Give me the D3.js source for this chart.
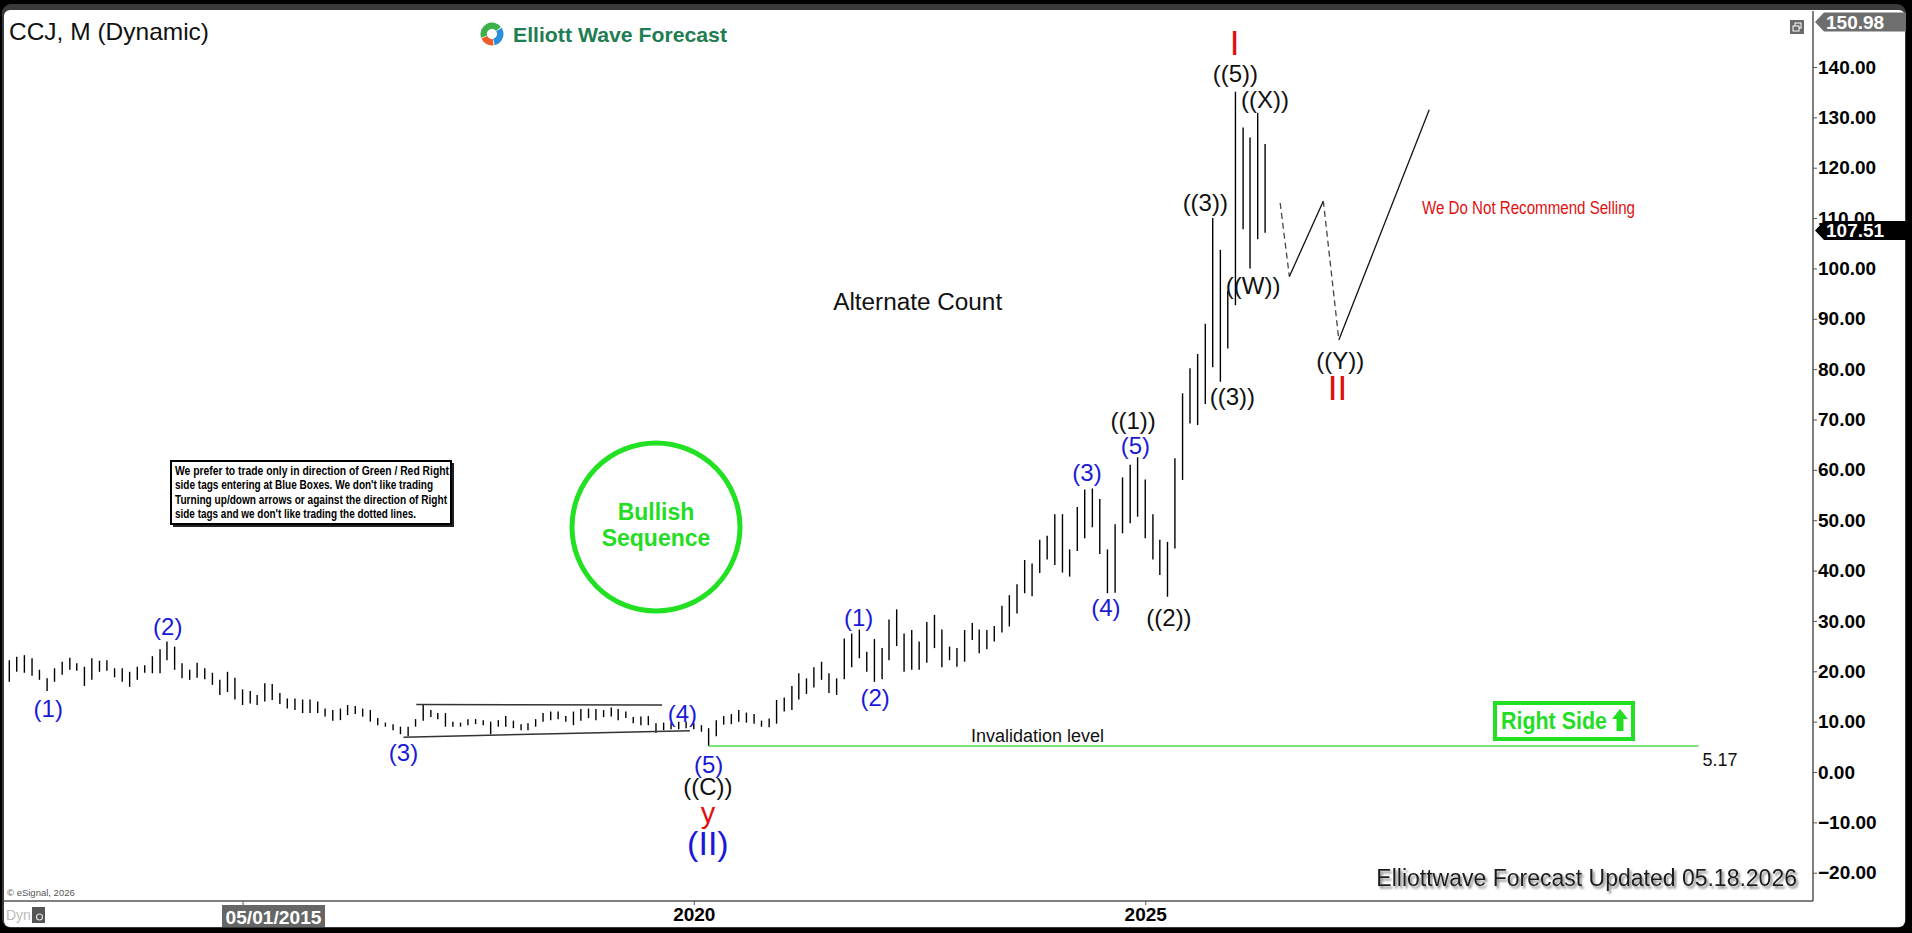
<!DOCTYPE html>
<html><head><meta charset="utf-8">
<script src="https://cdn.jsdelivr.net/npm/d3@7"></script>
<style>html,body{margin:0;padding:0;background:#000;overflow:hidden}svg{display:block}</style>
</head><body><svg id="c" width="1912" height="933"></svg>
<script>
// ---------------- DATA ----------------
const firstMonth = [2012, 5];          // June 2012 (year, monthIndex)
const lastMonth = [2026, 4];           // May 2026
const highs = [
 22.2,22.9,23.2,22.6,20.3,18.6,20.6,21.9,22.7,21.6,
 20.9,22.6,22.1,22.2,20.6,20.6,19.9,20.9,21.2,23.0,
 24.4,25.9,24.9,21.6,20.3,21.7,20.6,19.7,18.3,19.9,
 18.7,16.4,16.1,15.3,17.6,17.5,15.7,14.6,14.6,14.4,
 14.4,14.0,12.6,12.3,12.6,13.3,13.1,12.6,12.3,10.7,
 9.8,9.5,9.0,9.0,10.5,13.3,12.3,11.7,11.7,10.0,
 9.8,10.5,10.5,10.3,10.0,10.3,11.1,10.2,9.5,9.7,
 10.5,11.7,12.0,12.0,11.1,12.0,12.5,12.6,12.5,12.3,
 12.8,12.5,12.0,10.9,11.0,11.1,9.7,9.8,9.8,10.0,
 10.0,9.7,9.3,8.7,10.3,11.1,11.5,12.3,11.8,11.5,
 10.2,10.6,14.3,14.8,17.1,19.6,18.6,20.8,21.9,19.6,
 18.6,26.5,27.5,28.3,23.9,26.4,24.6,30.3,32.3,27.5,
 28.2,25.9,29.8,31.2,28.3,24.9,24.6,28.2,29.6,28.3,
 28.2,29.0,33.0,35.1,37.3,42.1,41.4,46.1,46.9,51.2,
 51.2,44.2,52.6,56.1,56.3,54.2,44.2,49.2,58.5,61.0,
 62.5,58.1,51.2,46.1,45.7,62.3,75.2,80.2,83.0,89.0,
 110.0,103.7,95.5,135.1,128.0,126.0,130.9,124.7
];
const lows = [
 17.9,19.9,19.7,19.1,18.3,16.1,17.9,19.3,20.3,20.1,
 17.1,18.3,19.9,20.1,18.8,17.9,16.9,18.3,19.7,19.6,
 19.6,22.2,20.3,18.6,18.3,18.7,18.4,17.3,15.3,15.9,
 14.4,13.3,13.6,13.3,14.0,14.3,13.5,12.6,12.3,11.7,
 11.7,11.7,11.0,10.2,10.3,11.3,11.5,11.0,10.0,9.3,
 9.0,8.3,7.5,7.1,9.0,10.2,10.9,10.5,9.0,9.0,
 9.0,9.3,9.5,9.3,7.5,9.0,9.0,8.7,8.3,8.3,
 9.0,10.0,10.3,10.5,10.0,9.3,10.2,10.7,10.3,10.9,
 11.0,10.3,10.7,9.7,9.3,9.3,7.8,8.3,8.5,8.5,
 8.7,8.5,8.0,5.17,7.1,9.4,9.5,10.0,9.8,9.6,
 9.0,8.9,9.6,12.0,12.3,14.4,15.5,16.8,18.3,15.7,
 15.3,18.4,20.8,22.6,19.9,17.9,18.4,22.2,25.0,19.9,
 20.3,20.3,21.7,24.6,20.8,22.2,20.9,21.9,26.2,23.6,
 24.4,25.9,27.7,28.9,31.5,35.5,34.9,39.5,42.2,41.1,
 39.6,38.8,43.9,46.4,48.6,43.3,35.5,35.6,47.4,49.4,
 50.7,46.4,42.2,39.1,34.8,44.4,58.0,69.2,68.9,73.1,
 80.4,77.5,84.1,92.7,107.8,100.0,105.8,107.1
];
const priceTicks = [-20,-10,0,10,20,30,40,50,60,70,80,90,100,110,120,130,140];
const yearTicks = [2015, 2020, 2025];
const lastPrice = 107.51;
const topPrice = 150.98;
const invalidation = 5.17;
const cursorDateLabel = "05/01/2015";
// projection path: [month index from first month, price]
const projection = [[169.0,113.0],[170.2,98.4],[174.7,113.4],[176.8,85.8],[188.8,131.5]];
const projectionDashed = [true,false,true,false];
// triangle (wave (4)) boundaries: [monthIndex, price]
const triangleUpper = [[54.1,13.4],[86.8,13.3]];
const triangleLower = [[52.4,6.9],[90.5,8.2]];
const invalidationSpan = [93.0, 224.6];
// wave labels: [text, monthIndex, price]
const blueLabels = [["(1)",5.15,12.7],["(2)",21.1,28.8],["(3)",52.4,3.8],["(4)",89.5,11.7],["(5)",93.0,1.4],
  ["(1)",112.9,30.6],["(2)",115.1,14.7],["(3)",143.3,59.4],["(4)",145.8,32.6],["(5)",149.7,64.9]];
const blackLabels = [["((C))",92.9,-2.9],["((1))",149.4,69.9],["((2))",154.2,30.6],["((3))",159.0,113.0],
  ["((3))",162.6,74.5],["((5))",163.0,138.8],["((X))",167.0,133.6],["((W))",165.4,96.7],["((Y))",177.0,81.8]];
const redMinorLabels = [["y",92.9,-8.2]];
const redMajorLabels = [["I",162.9,144.8],["II",176.6,76.3]];
const blueCycleLabels = [["(II)",92.9,-14.1]];
const noteLines = ["We prefer to trade only in direction of Green / Red Right",
  "side tags entering at Blue Boxes. We don't like trading",
  "Turning up/down arrows or against the direction of Right",
  "side tags and we don't like trading the dotted lines."];

// ---------------- SETUP ----------------
const W = 1912, H = 933;
const plotL = 4, plotR = 1813, plotT = 11, plotB = 901;
const FONT = "'Liberation Sans', Arial, Helvetica, sans-serif";
const NARROW = "'Liberation Sans Narrow', 'Arial Narrow', 'Liberation Sans', Arial, sans-serif";
const svg = d3.select("#c");

const monthDate = i => {
  const m = Math.floor(i), f = i - m;
  const d0 = new Date(firstMonth[0], firstMonth[1] + m, 1);
  const d1 = new Date(firstMonth[0], firstMonth[1] + m + 1, 1);
  return new Date(+d0 + f * (d1 - d0));
};
const x = d3.scaleTime()
  .domain([new Date(firstMonth[0], firstMonth[1], 1), new Date(lastMonth[0], lastMonth[1], 1)])
  .range([9.3, 1265.1]);
const y = d3.scaleLinear().domain([0, 140]).range([772, 67]);
const X = i => x(monthDate(i));

// frame
svg.append("rect").attr("x",0).attr("y",0).attr("width",W).attr("height",H).attr("fill","#000");
svg.append("rect").attr("x",2).attr("y",4).attr("width",1904).attr("height",924).attr("rx",9).attr("fill","#3a3a3a");
svg.append("rect").attr("x",4).attr("y",10).attr("width",1901).attr("height",917).attr("rx",6).attr("fill","#fff");

const defs = svg.append("defs");
defs.append("clipPath").attr("id","plotclip").append("rect")
  .attr("x",plotL).attr("y",plotT).attr("width",plotR-plotL).attr("height",plotB-plotT);
const f = defs.append("filter").attr("id","shadow").attr("x","-5%").attr("y","-30%").attr("width","115%").attr("height","170%");
f.append("feDropShadow").attr("dx",2).attr("dy",2.5).attr("stdDeviation",1.2).attr("flood-color","#777").attr("flood-opacity",0.9);

const plot = svg.append("g").attr("clip-path","url(#plotclip)");

// ---------------- PRICE BARS ----------------
const bars = highs.map((h,i)=>({h, l: lows[i], d: monthDate(i)}));
plot.append("g").selectAll("line").data(bars).join("line")
  .attr("x1",d=>x(d.d)).attr("x2",d=>x(d.d))
  .attr("y1",d=>y(d.h)).attr("y2",d=>y(d.l))
  .attr("stroke","#000").attr("stroke-width",1.4);

// triangle lines
[triangleUpper, triangleLower].forEach(seg=>{
  plot.append("line")
    .attr("x1",X(seg[0][0])).attr("y1",y(seg[0][1]))
    .attr("x2",X(seg[1][0])).attr("y2",y(seg[1][1]))
    .attr("stroke","#333").attr("stroke-width",1.5);
});

// invalidation line
plot.append("line")
  .attr("x1",X(invalidationSpan[0])).attr("x2",X(invalidationSpan[1]))
  .attr("y1",y(invalidation)).attr("y2",y(invalidation))
  .attr("stroke","#4ddc4d").attr("stroke-width",1.4);
plot.append("text").attr("x",X(136.7)).attr("y",y(7.15)).attr("text-anchor","middle")
  .attr("dominant-baseline","central").attr("font-family",FONT).attr("font-size",18).attr("fill","#111")
  .text("Invalidation level");
plot.append("text").attr("x",X(invalidationSpan[1])+4).attr("y",y(2.4))
  .attr("dominant-baseline","central").attr("font-family",FONT).attr("font-size",18).attr("fill","#111")
  .text(d3.format(".2f")(invalidation));

// projection
for (let k=0;k<projection.length-1;k++){
  const a = projection[k], b = projection[k+1];
  plot.append("line").attr("x1",X(a[0])).attr("y1",y(a[1])).attr("x2",X(b[0])).attr("y2",y(b[1]))
    .attr("stroke", projectionDashed[k] ? "#444" : "#111").attr("stroke-width",1.3)
    .attr("stroke-dasharray", projectionDashed[k] ? "6,4" : null);
}

// ---------------- LABELS ----------------
function labels(arr, color, size){
  plot.append("g").selectAll("text").data(arr).join("text")
    .attr("x",d=>X(d[1])).attr("y",d=>y(d[2]))
    .attr("text-anchor","middle").attr("dominant-baseline","central")
    .attr("font-family",FONT).attr("font-size",size).attr("fill",color)
    .text(d=>d[0]);
}
labels(blueLabels, "#1a1ad6", 24);
labels(blackLabels, "#111", 24);
labels(redMinorLabels, "#e01010", 29);
labels(redMajorLabels, "#e01010", 35);
labels(blueCycleLabels, "#1a1ad6", 34);

plot.append("text").attr("x",X(120.8)).attr("y",y(93.3)).attr("text-anchor","middle")
  .attr("dominant-baseline","central").attr("font-family",FONT).attr("font-size",23).attr("fill","#111")
  .attr("textLength",169).attr("lengthAdjust","spacingAndGlyphs")
  .text("Alternate Count");
plot.append("text").attr("x",1422).attr("y",208).attr("dominant-baseline","central")
  .attr("font-family",NARROW).attr("font-size",18).attr("fill","#e01010")
  .attr("textLength",213).attr("lengthAdjust","spacingAndGlyphs")
  .text("We Do Not Recommend Selling");

// ---------------- ANNOTATIONS ----------------
// note box
const nb = svg.append("g");
nb.append("rect").attr("x",173).attr("y",463).attr("width",281).attr("height",64).attr("fill","#222");
nb.append("rect").attr("x",171).attr("y",461).attr("width",280).attr("height",63).attr("fill","#fff")
  .attr("stroke","#000").attr("stroke-width",2);
const noteLens = [274, 258, 272, 241];
nb.selectAll("text").data(noteLines).join("text")
  .attr("x",175).attr("y",(d,i)=>471+i*14.4).attr("dominant-baseline","central")
  .attr("font-family",NARROW).attr("font-weight","bold").attr("font-size",12).attr("fill","#000")
  .attr("textLength",(d,i)=>noteLens[i]).attr("lengthAdjust","spacingAndGlyphs")
  .text(d=>d);

// bullish sequence circle
svg.append("circle").attr("cx",656).attr("cy",527).attr("r",84).attr("fill","none")
  .attr("stroke","#22e022").attr("stroke-width",5);
svg.append("text").attr("x",656).attr("y",512).attr("text-anchor","middle").attr("dominant-baseline","central")
  .attr("font-family",FONT).attr("font-weight","bold").attr("font-size",23).attr("fill","#22dd22").text("Bullish");
svg.append("text").attr("x",656).attr("y",538).attr("text-anchor","middle").attr("dominant-baseline","central")
  .attr("font-family",FONT).attr("font-weight","bold").attr("font-size",23).attr("fill","#22dd22").text("Sequence");

// right side box
svg.append("rect").attr("x",1495).attr("y",703).attr("width",138).attr("height",36)
  .attr("fill","#fff").attr("stroke","#22e022").attr("stroke-width",4);
svg.append("text").attr("x",1501).attr("y",721).attr("dominant-baseline","central")
  .attr("font-family",NARROW).attr("font-weight","bold").attr("font-size",23).attr("fill","#22dd22")
  .attr("textLength",106).attr("lengthAdjust","spacingAndGlyphs").text("Right Side");
svg.append("path").attr("d","M1620,709 L1628,719 L1623.5,719 L1623.5,731 L1616.5,731 L1616.5,719 L1612,719 Z")
  .attr("fill","#22dd22");

// title & logo
svg.append("text").attr("x",9).attr("y",31).attr("dominant-baseline","central")
  .attr("font-family",FONT).attr("font-size",24).attr("fill","#111")
  .attr("textLength",200).attr("lengthAdjust","spacingAndGlyphs").text("CCJ, M (Dynamic)");
const arc = d3.arc().innerRadius(5).outerRadius(11.5);
const logo = svg.append("g").attr("transform","translate(492,34)");
logo.append("path").attr("d",arc({startAngle:-1.9,endAngle:0.9})).attr("fill","#3cb14a");
logo.append("path").attr("d",arc({startAngle:1.0,endAngle:2.9})).attr("fill","#2a8fd8");
logo.append("path").attr("d",arc({startAngle:3.0,endAngle:4.3})).attr("fill","#f05a28");
svg.append("text").attr("x",513).attr("y",34).attr("dominant-baseline","central")
  .attr("font-family",FONT).attr("font-weight","bold").attr("font-size",21).attr("fill","#1f7d52")
  .attr("textLength",214).attr("lengthAdjust","spacingAndGlyphs").text("Elliott Wave Forecast");

// restore icon
const ic = svg.append("g");
ic.append("rect").attr("x",1790).attr("y",20).attr("width",14).attr("height",14).attr("fill","#6a6a6a");
ic.append("rect").attr("x",1795).attr("y",23).attr("width",6).attr("height",5).attr("fill","none").attr("stroke","#fff").attr("stroke-width",1);
ic.append("rect").attr("x",1793).attr("y",26).attr("width",6).attr("height",5).attr("fill","#6a6a6a").attr("stroke","#fff").attr("stroke-width",1);

// footer
svg.append("text").attr("x",1797).attr("y",878).attr("text-anchor","end").attr("dominant-baseline","central")
  .attr("font-family",FONT).attr("font-size",23).attr("fill","#1a1a1a").attr("filter","url(#shadow)")
  .text("Elliottwave Forecast Updated 05.18.2026");
svg.append("text").attr("x",7).attr("y",892).attr("dominant-baseline","central")
  .attr("font-family",FONT).attr("font-size",9.5).attr("fill","#555").text("© eSignal, 2026");

// ---------------- AXES ----------------
const yAxis = d3.axisRight(y).tickValues(priceTicks).tickFormat(d3.format(".2f")).tickSize(4).tickPadding(1);
const gy = svg.append("g").attr("transform",`translate(${plotR},0)`).call(yAxis);
gy.select(".domain").remove();
gy.selectAll(".tick line").attr("stroke","#555");
gy.selectAll(".tick text").attr("font-family",FONT).attr("font-weight","bold").attr("font-size",19).attr("fill","#000");
svg.append("line").attr("x1",plotR).attr("x2",plotR).attr("y1",plotT).attr("y2",plotB).attr("stroke","#555").attr("stroke-width",1.5);

const xAxis = d3.axisBottom(x).tickValues(yearTicks.map(yr=>new Date(yr,0,1)))
  .tickFormat(d=> d.getFullYear() === yearTicks[0] ? "" : d3.timeFormat("%Y")(d)).tickSize(4).tickPadding(3);
const gx = svg.append("g").attr("transform",`translate(0,${plotB})`).call(xAxis);
gx.select(".domain").remove();
gx.selectAll(".tick line").attr("stroke","#555");
gx.selectAll(".tick text").attr("font-family",FONT).attr("font-weight","bold").attr("font-size",19).attr("fill","#000");
svg.append("line").attr("x1",plotL).attr("x2",plotR).attr("y1",plotB).attr("y2",plotB).attr("stroke","#555").attr("stroke-width",1.5);

// cursor date box
svg.append("rect").attr("x",222).attr("y",905).attr("width",103).attr("height",22).attr("fill","#666");
svg.append("text").attr("x",273.5).attr("y",917).attr("text-anchor","middle").attr("dominant-baseline","central")
  .attr("font-family",FONT).attr("font-weight","bold").attr("font-size",19).attr("fill","#fff")
  .attr("textLength",96).attr("lengthAdjust","spacingAndGlyphs").text(cursorDateLabel);
svg.append("text").attr("x",6).attr("y",915).attr("dominant-baseline","central")
  .attr("font-family",FONT).attr("font-size",14).attr("fill","#bbb").text("Dyn");
svg.append("rect").attr("x",32).attr("y",907).attr("width",13).attr("height",16).attr("fill","#555");
svg.append("circle").attr("cx",39.5).attr("cy",917).attr("r",3).attr("fill","none").attr("stroke","#ddd").attr("stroke-width",1.2);

// price flags
function flag(yc, fill, label){
  const g = svg.append("g");
  g.append("path").attr("d",`M1815,${yc} L1824,${yc-9.5} L1906,${yc-9.5} L1906,${yc+9.5} L1824,${yc+9.5} Z`).attr("fill",fill);
  g.append("text").attr("x",1826).attr("y",yc).attr("dominant-baseline","central")
    .attr("font-family",FONT).attr("font-weight","bold").attr("font-size",19).attr("fill","#fff").text(label);
}
flag(22, "#6e6e6e", d3.format(".2f")(topPrice));
flag(y(lastPrice), "#000", d3.format(".2f")(lastPrice));
</script></body></html>
